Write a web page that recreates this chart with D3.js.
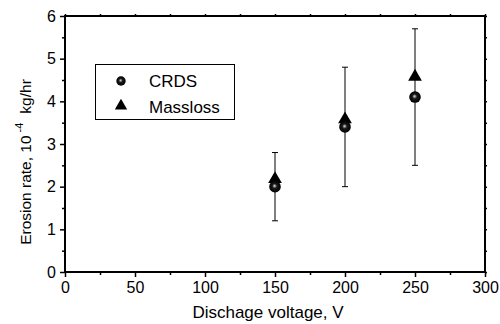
<!DOCTYPE html>
<html>
<head>
<meta charset="utf-8">
<script src="https://cdn.jsdelivr.net/npm/d3@7"></script>
<style>
  html, body { margin: 0; padding: 0; background: #fff; }
  svg { display: block; font-family: "Liberation Sans", Arial, Helvetica, sans-serif; }
</style>
</head>
<body>
<svg id="chart" width="500" height="324"></svg>
<script>
// Discharge voltage (V)
const voltages = [150, 200, 250];
// Erosion rate, 10^-4 kg/hr
const crds = [2.0, 3.4, 4.1];
const massloss = [2.2, 3.6, 4.6];
// Uncertainty range of the measurements
const errLow = [1.2, 2.0, 2.5];
const errHigh = [2.8, 4.8, 5.7];

const xTicks = [0, 50, 100, 150, 200, 250, 300];
const yTicks = [0, 1, 2, 3, 4, 5, 6];
const xMinor = [25, 75, 125, 175, 225, 275];
const yMinor = [0.5, 1.5, 2.5, 3.5, 4.5, 5.5];
const seriesNames = ["CRDS", "Massloss"];

const svg = d3.select("#chart");
const m = { left: 65, right: 485, top: 16, bottom: 272 };

const x = d3.scaleLinear().domain([0, 300]).range([m.left, m.right]);
const y = d3.scaleLinear().domain([0, 6]).range([m.bottom, m.top]);

// sphere shading for the CRDS markers
const defs = svg.append("defs");
const grad = defs.append("radialGradient").attr("id", "sphere")
  .attr("cx", "0.5").attr("cy", "0.5").attr("r", "0.5")
  .attr("fx", "0.45").attr("fy", "0.42");
grad.append("stop").attr("offset", "0").attr("stop-color", "#dddddd");
grad.append("stop").attr("offset", "0.15").attr("stop-color", "#999999");
grad.append("stop").attr("offset", "0.4").attr("stop-color", "#1a1a1a");
grad.append("stop").attr("offset", "1").attr("stop-color", "#000");

// axes: major ticks with labels, minor ticks without
const tickFont = 16;
svg.append("g").attr("transform", `translate(0,${m.bottom})`)
  .call(d3.axisBottom(x).tickValues(xTicks).tickSize(5).tickSizeOuter(0).tickPadding(5).tickFormat(d3.format("d")));
svg.append("g").attr("transform", `translate(${m.left},0)`)
  .call(d3.axisLeft(y).tickValues(yTicks).tickSize(5).tickSizeOuter(0).tickPadding(4).tickFormat(d3.format("d")));
svg.append("g").attr("transform", `translate(0,${m.bottom})`)
  .call(d3.axisBottom(x).tickValues(xMinor).tickSize(3).tickSizeOuter(0).tickFormat(""));
svg.append("g").attr("transform", `translate(${m.left},0)`)
  .call(d3.axisLeft(y).tickValues(yMinor).tickSize(3).tickSizeOuter(0).tickFormat(""));
// top and right axes carry small ticks only
svg.append("g").attr("transform", `translate(0,${m.top})`)
  .call(d3.axisTop(x).tickValues(xTicks.concat(xMinor)).tickSize(2).tickSizeOuter(0).tickFormat(""));
svg.append("g").attr("transform", `translate(${m.right},0)`)
  .call(d3.axisRight(y).tickValues(yTicks.concat(yMinor)).tickSize(2).tickSizeOuter(0).tickFormat(""));

svg.selectAll(".domain").remove();
svg.selectAll(".tick line").attr("stroke", "#000").attr("stroke-width", 1.5);
svg.selectAll(".tick text").attr("font-size", tickFont).attr("fill", "#000")
  .attr("font-family", "Liberation Sans, Arial, sans-serif");

// frame
svg.append("rect")
  .attr("x", m.left).attr("y", m.top)
  .attr("width", m.right - m.left).attr("height", m.bottom - m.top)
  .attr("fill", "none").attr("stroke", "#000").attr("stroke-width", 2);

// error bars
const eb = svg.append("g").attr("stroke", "#000").attr("stroke-width", 1);
voltages.forEach((v, i) => {
  eb.append("line").attr("x1", x(v)).attr("x2", x(v)).attr("y1", y(errLow[i])).attr("y2", y(errHigh[i]));
  eb.append("line").attr("x1", x(v) - 3).attr("x2", x(v) + 3).attr("y1", y(errLow[i])).attr("y2", y(errLow[i]));
  eb.append("line").attr("x1", x(v) - 3).attr("x2", x(v) + 3).attr("y1", y(errHigh[i])).attr("y2", y(errHigh[i]));
});

const tri = d3.symbol().type(d3.symbolTriangle).size(82);
const triSmall = d3.symbol().type(d3.symbolTriangle).size(66);

// Massloss triangles
svg.append("g").selectAll("path").data(massloss).join("path")
  .attr("d", tri)
  .attr("transform", (d, i) => `translate(${x(voltages[i])},${y(d) + 1})`)
  .attr("fill", "#000");

// CRDS spheres
svg.append("g").selectAll("circle").data(crds).join("circle")
  .attr("cx", (d, i) => x(voltages[i])).attr("cy", d => y(d))
  .attr("r", 5.8).attr("fill", "url(#sphere)");

// legend
const lg = svg.append("g");
lg.append("rect").attr("x", 95.5).attr("y", 64.5).attr("width", 139).attr("height", 55)
  .attr("fill", "#fff").attr("stroke", "#000").attr("stroke-width", 1);
lg.append("circle").attr("cx", 121).attr("cy", 81).attr("r", 4.7).attr("fill", "url(#sphere)");
lg.append("path").attr("d", triSmall).attr("transform", "translate(121,106)").attr("fill", "#000");
lg.selectAll("text").data(seriesNames).join("text")
  .attr("x", 149).attr("y", (d, i) => 87 + i * 26)
  .attr("font-size", 17).attr("fill", "#000").text(d => d);

// axis titles
svg.append("text").attr("x", 268).attr("y", 318).attr("text-anchor", "middle")
  .attr("font-size", 17).attr("fill", "#000").text("Dischage voltage, V");

const yt = svg.append("text").attr("transform", "translate(31,162) rotate(-90)")
  .attr("text-anchor", "middle").attr("font-size", 15.5).attr("fill", "#000");
yt.append("tspan").text("Erosion rate, 10");
yt.append("tspan").attr("font-size", 11).attr("dx", 3).attr("dy", -8).text("-4");
yt.append("tspan").attr("dx", 9).attr("dy", 8).text("kg/hr");
</script>
</body>
</html>
